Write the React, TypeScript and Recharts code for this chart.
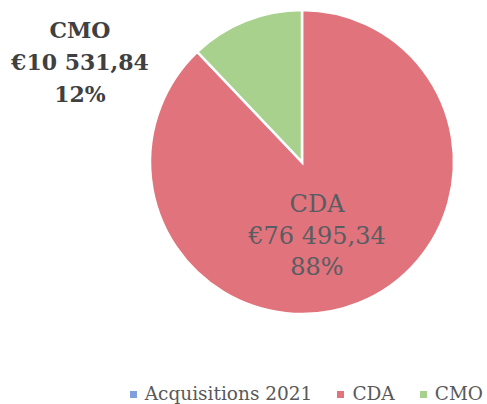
import React from 'react';
import { PieChart, Pie, Cell, Legend } from 'recharts';

const categories = ['CDA', 'CMO'];
const values = [76495.34, 10531.84];
const valueLabels = ['€76 495,34', '€10 531,84'];
const percentLabels = ['88%', '12%'];
const legendLabels = ['Acquisitions 2021', 'CDA', 'CMO'];

const sliceColors = ['#e0737b', '#a9d18e'];
const legendColors = ['#7f9fdf', '#e0737b', '#a9d18e'];

const data = categories.map((name, i) => ({ name, value: values[i] }));

const FONT = '"DejaVu Serif", serif';

const renderLabel = (props: any) => {
  const { cx, cy, index } = props;
  const lines = [categories[index], valueLabels[index], percentLabels[index]];
  if (index === 0) {
    const x = cx + 15;
    const y0 = cy + 50;
    return (
      <g>
        {lines.map((t, i) => (
          <text key={i} x={x} y={y0 + i * 31.5} textAnchor="middle" fontFamily={FONT} fontSize={24} fill="#585c63">
            {t}
          </text>
        ))}
      </g>
    );
  }
  const x = cx - 222;
  const y0 = cy - 124;
  return (
    <g>
      {lines.map((t, i) => (
        <text key={i} x={x} y={y0 + i * 32} textAnchor="middle" fontFamily={FONT} fontSize={22} fontWeight="bold" fill="#404040">
          {t}
        </text>
      ))}
    </g>
  );
};

const renderLegend = () => (
  <div
    style={{
      display: 'flex',
      justifyContent: 'flex-end',
      alignItems: 'center',
      height: 20,
      lineHeight: '20px',
      paddingRight: 4,
      fontFamily: FONT,
      fontSize: 18.5,
      color: '#595959',
    }}
  >
    {legendLabels.map((l, i) => (
      <span key={l} style={{ display: 'flex', alignItems: 'center', marginLeft: i === 0 ? 0 : 25 }}>
        <span style={{ display: 'inline-block', width: 7, height: 7, background: legendColors[i], marginRight: 8 }} />
        <span>{l}</span>
      </span>
    ))}
  </div>
);

export default function App() {
  return (
    <div style={{ position: 'absolute', left: 0, top: 0, width: 487, height: 404, background: '#fff' }}>
      <PieChart width={487} height={404} margin={{ top: 0, right: 0, bottom: 0, left: 0 }}>
        <Pie
          data={data}
          dataKey="value"
          nameKey="name"
          cx={302}
          cy={162}
          outerRadius={152}
          startAngle={90}
          endAngle={-270}
          stroke="#ffffff"
          strokeWidth={2.5}
          label={renderLabel}
          labelLine={false}
          isAnimationActive={false}
        >
          {data.map((d, i) => (
            <Cell key={d.name} fill={sliceColors[i]} />
          ))}
        </Pie>
        <Legend
          content={renderLegend}
          wrapperStyle={{ position: 'absolute', left: 0, top: 384, width: 487 }}
        />
      </PieChart>
    </div>
  );
}
